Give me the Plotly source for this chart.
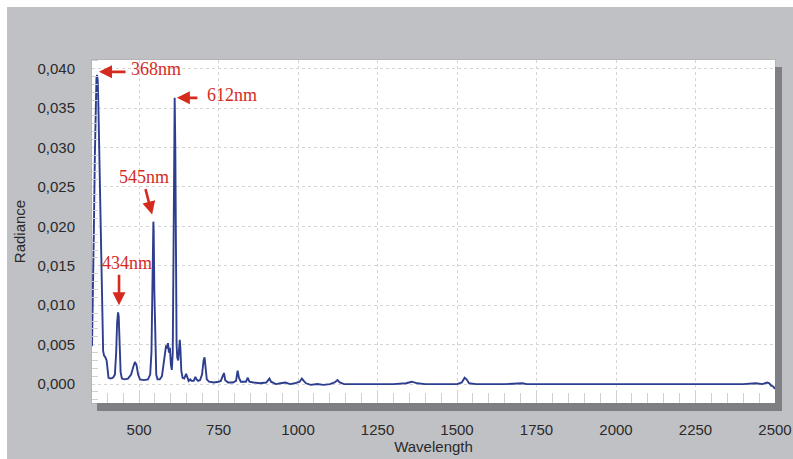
import plotly.graph_objects as go

# Emission spectrum: wavelength (nm) and radiance
wavelength = [
    352, 355, 358, 361, 364, 366, 368, 370, 372, 375, 378, 381, 384, 387, 390,
    394, 398, 401, 404, 410, 418, 424, 428, 431, 434, 436, 439, 442, 446, 455,
    465, 475, 482, 487, 492, 497, 503, 515, 528, 535, 539, 542, 544, 545, 546,
    548, 551, 554, 558, 565, 572, 578, 582, 585, 588, 591, 594, 597, 600, 603,
    606, 608, 610, 612, 614, 616, 618, 620, 623, 626, 628, 630, 633, 637, 642,
    648, 652, 656, 661, 665, 672, 677, 681, 686, 692, 698, 703, 706, 709, 713,
    720, 735, 750, 757, 763, 767, 771, 780, 795, 805, 810, 814, 820, 836, 842,
    847, 860, 880, 900, 905, 910, 915, 930, 945, 960, 975, 990, 1005, 1012, 1018,
    1025, 1040, 1060, 1080, 1100, 1115, 1124, 1131, 1145, 1200, 1300, 1340, 1358, 1375, 1400,
    1500, 1515, 1524, 1530, 1538, 1560, 1650, 1690, 1705, 1720, 1900, 2100, 2300, 2400, 2440,
    2460, 2475, 2482, 2488, 2494, 2500,
]
radiance = [
    0.0048, 0.0110, 0.0200, 0.0290, 0.0360, 0.0388, 0.0392, 0.0385, 0.0355, 0.0290, 0.0210, 0.0130, 0.0070, 0.0042, 0.0036,
    0.0034, 0.0030, 0.0015, 0.0008, 0.0007, 0.0008, 0.0012, 0.0040, 0.0078, 0.0091, 0.0086, 0.0050, 0.0015, 0.0007, 0.0006,
    0.0007, 0.0012, 0.0022, 0.0028, 0.0024, 0.0012, 0.0006, 0.0005, 0.0006, 0.0012, 0.0040, 0.0120, 0.0195, 0.0206, 0.0195,
    0.0120, 0.0040, 0.0012, 0.0006, 0.0006, 0.0010, 0.0028, 0.0046, 0.0049, 0.0045, 0.0052, 0.0040, 0.0046, 0.0025, 0.0018,
    0.0040, 0.0140, 0.0300, 0.0363, 0.0300, 0.0140, 0.0050, 0.0034, 0.0030, 0.0045, 0.0056, 0.0045, 0.0016, 0.0008, 0.0007,
    0.0013, 0.0009, 0.0004, 0.0006, 0.0004, 0.0004, 0.0009, 0.0006, 0.0004, 0.0005, 0.0012, 0.0030, 0.0034, 0.0022, 0.0006,
    0.0003, 0.0002, 0.0003, 0.0004, 0.0010, 0.0014, 0.0005, 0.0002, 0.0002, 0.0004, 0.0017, 0.0008, 0.0003, 0.0003, 0.0008,
    0.0003, 0.0002, 0.0001, 0.0002, 0.0004, 0.0007, 0.0003, 0.0000, 0.0001, 0.0002, 0.0000, 0.0001, 0.0003, 0.0007, 0.0004,
    0.0001, -0.0001, 0.0000, -0.0001, 0.0000, 0.0002, 0.0005, 0.0002, 0.0000, 0.0000, 0.0000, 0.0001, 0.0003, 0.0001, 0.0000,
    0.0000, 0.0002, 0.0008, 0.0006, 0.0001, 0.0000, 0.0000, 0.0001, 0.0001, 0.0000, 0.0000, 0.0000, 0.0000, 0.0000, 0.0001,
    0.0000, 0.0002, 0.0001, -0.0002, -0.0003, -0.0006,
]

# Labelled emission peaks (nm) and their radiance
peak_nm = [368, 434, 545, 612]
peak_val = [0.0392, 0.0091, 0.0206, 0.0363]
peak_labels = ["368nm", "434nm", "545nm", "612nm"]

x_ticks = [500, 750, 1000, 1250, 1500, 1750, 2000, 2250, 2500]

W, H = 793, 459
ML, MR, MT, MB = 92, 18, 60, 56
PW, PH = W - ML - MR, H - MT - MB


def px_x(p):
    return (p - ML) / PW


def px_y(p):
    return (H - MB - p) / PH


BG = "#c0c1c5"
SHADOW = "#7e7f82"
RED = "#d52b1f"
BLUE = "#2d3e8e"

fig = go.Figure()
fig.add_trace(go.Scatter(
    x=wavelength, y=radiance, mode="lines",
    line=dict(color=BLUE, width=1.9),
    showlegend=False, hoverinfo="skip",
))

shapes = [
    # white margin strips at top and left
    dict(type="rect", xref="paper", yref="paper", x0=px_x(0), x1=px_x(W), y0=px_y(7), y1=px_y(0),
         fillcolor="white", line=dict(width=0)),
    dict(type="rect", xref="paper", yref="paper", x0=px_x(0), x1=px_x(7), y0=px_y(H), y1=px_y(0),
         fillcolor="white", line=dict(width=0)),
    # drop shadow of the plot panel
    dict(type="rect", xref="paper", yref="paper", x0=1.0, x1=px_x(ML + PW + 7), y0=px_y(MT + PH + 8), y1=px_y(MT + 7),
         fillcolor=SHADOW, line=dict(width=0)),
    dict(type="rect", xref="paper", yref="paper", x0=px_x(ML + 5), x1=px_x(ML + PW + 7), y0=px_y(MT + PH + 8), y1=0,
         fillcolor=SHADOW, line=dict(width=0)),
]

# label text positions (nm, radiance) and anchoring
text_pos = {
    "368nm": (468, 0.0399, "left"),
    "434nm": (462, 0.0154, "center"),
    "545nm": (515, 0.0263, "center"),
    "612nm": (707, 0.0367, "left"),
}
# arrow heads (nm offset from peak, radiance offset) and tail offsets in pixels
arrow_spec = {
    "368nm": (6, 0.0004, 28, 0),
    "434nm": (3, 0.0009, 0, -32),
    "545nm": (-4, 0.0009, -7, -27),
    "612nm": (7, 0.0000, 22, 0),
}

annotations = []
for nm, val, lab in zip(peak_nm, peak_val, peak_labels):
    tx, ty, anc = text_pos[lab]
    annotations.append(dict(
        x=tx, y=ty, text=lab, showarrow=False, xanchor=anc, yanchor="middle",
        font=dict(family="Liberation Serif, Times New Roman, serif", size=18, color=RED),
    ))
    dx, dy, ax, ay = arrow_spec[lab]
    annotations.append(dict(
        x=nm + dx, y=val + dy, text="", showarrow=True, ax=ax, ay=ay,
        arrowhead=2, arrowsize=1.0, arrowwidth=2.6, arrowcolor=RED, standoff=0,
    ))

fig.update_layout(
    width=W, height=H,
    margin=dict(l=ML, r=MR, t=MT, b=MB, autoexpand=False),
    paper_bgcolor=BG, plot_bgcolor="white",
    separators=",.",
    shapes=shapes, annotations=annotations,
    font=dict(family="Liberation Sans, Arial, sans-serif", size=15, color="#2a2a2a"),
    xaxis=dict(
        range=[352, 2500], tickvals=x_ticks, tickformat="d", automargin=False,
        showgrid=True, gridcolor="#d4d4d4", griddash="dot", gridwidth=1,
        zeroline=False, showline=True, linecolor="#b4b4b4", linewidth=1, mirror=True,
        ticks="", ticklabelstandoff=13,
        minor=dict(dtick=50, tick0=0, ticks="inside", ticklen=10, tickcolor="#d0d0d0", tickwidth=1, showgrid=False),
        title=dict(text="Wavelength", standoff=3, font=dict(size=15)),
        tickfont=dict(size=15),
    ),
    yaxis=dict(
        range=[-0.0024, 0.0411], dtick=0.005, tick0=0, tickformat=".3f", automargin=False,
        showgrid=True, gridcolor="#d4d4d4", griddash="dot", gridwidth=1,
        zeroline=False, showline=True, linecolor="#b4b4b4", linewidth=1, mirror=True,
        ticks="", ticklabelstandoff=13,
        minor=dict(dtick=0.001, tick0=0, ticks="inside", ticklen=6, tickcolor="#d0d0d0", tickwidth=1, showgrid=False),
        title=dict(text="Radiance", standoff=8, font=dict(size=15)),
        tickfont=dict(size=15),
    ),
)

fig.write_html("out.html")
